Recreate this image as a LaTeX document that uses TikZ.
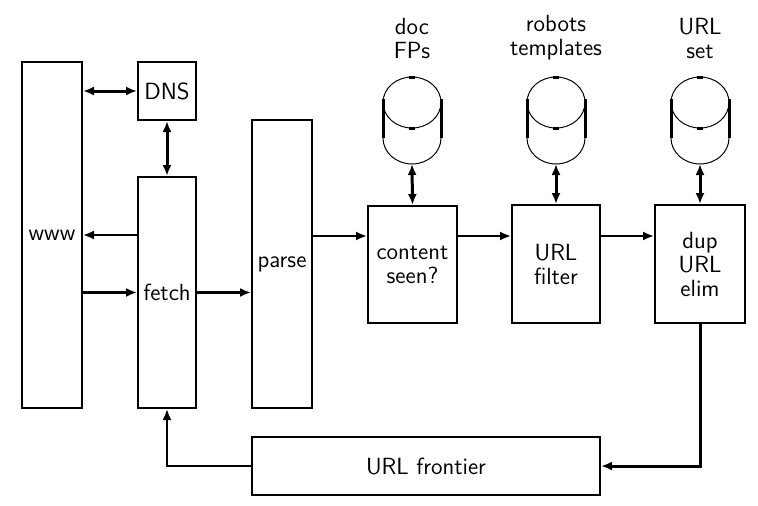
\documentclass[tikz,border=0pt]{standalone}
\usetikzlibrary{arrows.meta}
\begin{document}
\begin{tikzpicture}[x=0.5pt,y=-0.5pt,
  font=\sffamily\fontsize{11.7}{12}\selectfont,
  box/.style={draw, line width=1pt, inner sep=0pt, align=center, rectangle},
  tip/.style={-{Latex[length=5.5pt,width=4.5pt]}},
  dtip/.style={{Latex[length=5.5pt,width=4.5pt]}-{Latex[length=5.5pt,width=4.5pt]}},
  heavy/.style={line width=1.5pt},
  light/.style={line width=1pt},
  cylthin/.style={line width=0.5pt},
  cylside/.style={line width=1.5pt},
  lbl/.style={align=center, inner sep=0pt}]
\useasboundingbox (0,0) rectangle (758,505);

\node[box, minimum width=30pt, minimum height=173pt] (www) at (52,235) {www};
\node[box, minimum width=29pt, minimum height=29pt] (dns) at (167,91) {DNS};
\node[box, minimum width=29pt, minimum height=115.5pt] (fetch) at (167,292.5) {fetch};
\node[box, minimum width=30pt, minimum height=144pt] (parse) at (282,264) {parse};
\node[box, minimum width=44.5pt, minimum height=58.5pt] (content) at (412.5,264.5) {content\\seen?};
\node[box, minimum width=44pt, minimum height=59pt] (filter) at (556,264) {URL\\filter};
\node[box, minimum width=45pt, minimum height=59pt] (dup) at (700,264) {dup\\URL\\elim};
\node[box, minimum width=174pt, minimum height=29pt] (frontier) at (426,466) {URL frontier};

\coordinate (row) at (0,236);

% cylinders
\foreach \cx/\nm/\txt in {412/c1/{doc\\FPs}, 556/c2/{robots\\templates}, 700/c3/{URL\\set}} {
  \node[lbl] (lab\nm) at (\cx,38) {\txt};
  \draw[cylthin] (\cx,102.5) ellipse [x radius=29, y radius=25.5];
  \draw[cylthin] (\cx-29,138) arc [start angle=180, end angle=0, x radius=29, y radius=26];
  \draw[cylside] (\cx-29,99) -- (\cx-29,138);
  \draw[cylside] (\cx+29,99) -- (\cx+29,138);
  \draw[cylside] (\cx-3,77) -- (\cx+3,77);
  \draw[cylside] (\cx-3,128) -- (\cx+3,128);
  \coordinate (\nm) at (\cx,164);
}

% connectors
\draw[heavy, dtip] (dns.west -| www.east) -- (dns.west);
\draw[heavy, dtip] (dns.south) -- (fetch.north);
\draw[light, tip] (fetch.west |- www.center) -- (www.east |- www.center);
\draw[heavy, tip] (www.east |- fetch.center) -- (fetch.west);
\draw[heavy, tip] (fetch.east) -- (parse.west |- fetch.east);
\draw[light, tip] (parse.east |- row) -- (content.west |- row);
\draw[light, tip] (content.east |- row) -- (filter.west |- row);
\draw[light, tip] (filter.east |- row) -- (dup.west |- row);
\draw[heavy, dtip] (c1) -- (content.north);
\draw[heavy, dtip] (c2) -- (filter.north);
\draw[heavy, dtip] (c3) -- (dup.north);
\draw[heavy, tip] (dup.south) |- (frontier.east);
\draw[light, tip] (frontier.west) -| (fetch.south);
\end{tikzpicture}
\end{document}
